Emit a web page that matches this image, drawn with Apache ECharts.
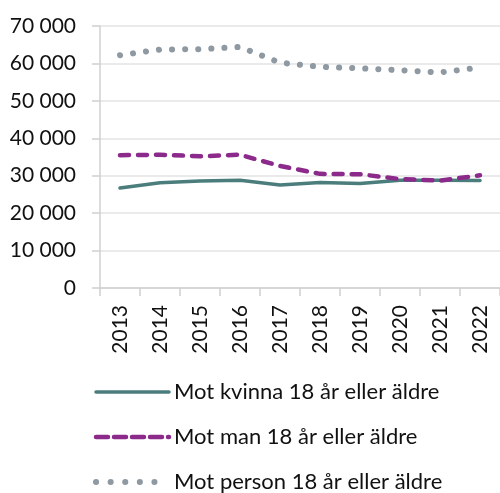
<!DOCTYPE html>
<html>
<head>
<meta charset="utf-8">
<script src="https://cdn.jsdelivr.net/npm/echarts@6/dist/echarts.min.js"></script>
<style>
html,body{margin:0;padding:0;background:#fff;}
#c{width:500px;height:493px;}
</style>
</head>
<body>
<div id="c"></div>
<script>
const categories = ['2013','2014','2015','2016','2017','2018','2019','2020','2021','2022'];
const kvinna = [26700, 28100, 28600, 28800, 27500, 28200, 27900, 28800, 28800, 28700];
const man = [35500, 35600, 35200, 35600, 32600, 30500, 30400, 29100, 28700, 30100];
const person = [62200, 63700, 63800, 64400, 60200, 59100, 58700, 58200, 57600, 58900];
const seriesNames = ['Mot kvinna 18 år eller äldre', 'Mot man 18 år eller äldre', 'Mot person 18 år eller äldre'];
const yTicks = {min: 0, max: 70000, interval: 10000};

const FONT = 'Lato';
const colors = ['#4a7d7c', '#8c2a8c', '#8e99a2'];
const styles = [
  {color: colors[0], width: 3.5, type: 'solid', cap: 'round'},
  {color: colors[1], width: 4.5, type: [9, 9], cap: 'round'},
  {color: colors[2], width: 6, type: [0.1, 13], cap: 'round'}
];
const legendExtra = [{}, {type: [12, 6]}, {type: [0.1, 14.5]}];
const chart = echarts.init(document.getElementById('c'), null, {renderer: 'canvas'});
chart.setOption({
  animation: false,
  textStyle: {fontFamily: FONT},
  grid: {left: 100, top: 26, width: 403, height: 262, containLabel: false},
  xAxis: {
    type: 'category',
    data: categories,
    boundaryGap: true,
    axisLine: {show: true, lineStyle: {color: '#d0d0d0', width: 1.5}},
    axisTick: {show: true, length: 8, lineStyle: {color: '#d0d0d0', width: 1.5}},
    axisLabel: {rotate: 90, margin: 17, fontSize: 21, color: '#111', fontFamily: FONT}
  },
  yAxis: {
    type: 'value',
    min: yTicks.min, max: yTicks.max, interval: yTicks.interval,
    axisLine: {show: true, lineStyle: {color: '#d0d0d0', width: 1.5}},
    axisTick: {show: true, length: 8, lineStyle: {color: '#d0d0d0', width: 1.5}},
    splitLine: {show: true, lineStyle: {color: '#e3e3e3', width: 1.5}},
    axisLabel: {
      margin: 24, fontSize: 21, color: '#111', fontFamily: FONT,
      formatter: v => String(v).replace(/\B(?=(\d{3})+(?!\d))/g, ' ')
    }
  },
  legend: {
    orient: 'vertical',
    left: 93, top: 380, height: 130, padding: 0,
    itemWidth: 73, itemHeight: 14, itemGap: 21,
    itemStyle: {opacity: 0},
    textStyle: {fontSize: 22, color: '#111', fontFamily: FONT, lineHeight: 24},
    data: seriesNames.map((n, i) => ({name: n, lineStyle: Object.assign({}, styles[i], legendExtra[i])}))
  },
  series: seriesNames.map((n, i) => ({
    name: n, type: 'line',
    data: [kvinna, man, person][i],
    symbol: 'none',
    lineStyle: styles[i],
    itemStyle: {color: colors[i]}
  }))
});
</script>
</body>
</html>
